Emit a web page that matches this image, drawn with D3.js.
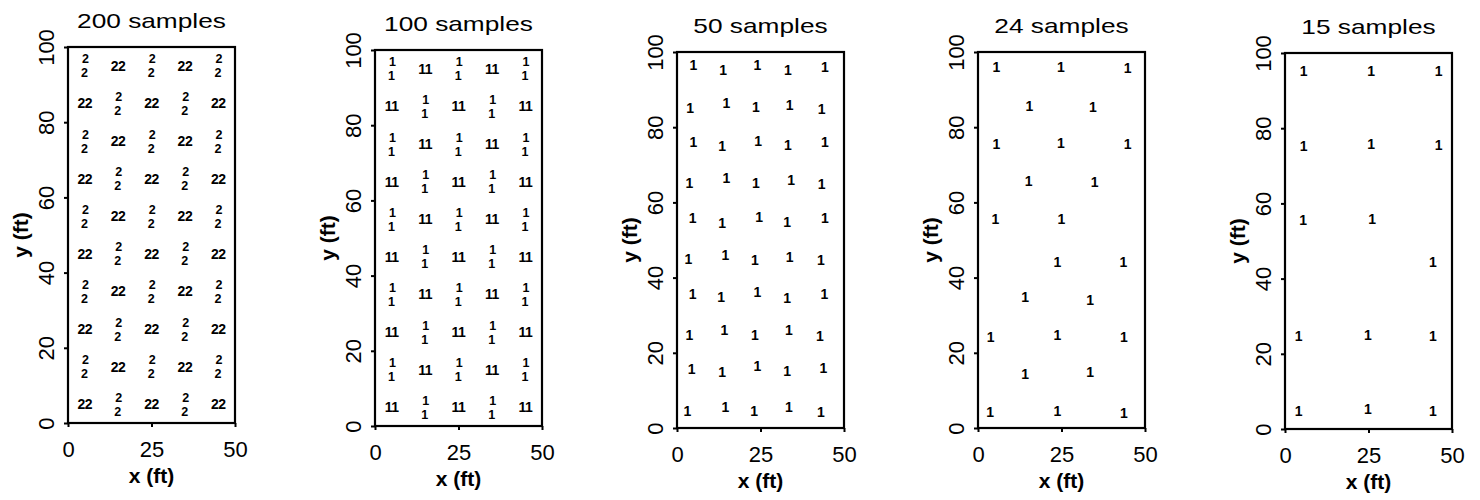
<!DOCTYPE html>
<html>
<head>
<meta charset="utf-8">
<script src="https://cdn.jsdelivr.net/npm/d3@7"></script>
<style>
  body { margin: 0; background: #fff; }
  svg { display: block; }
  text { font-family: "Liberation Sans", Arial, Helvetica, sans-serif; fill: #000; }
</style>
</head>
<body>
<script>
// ---------------- data ----------------
const titles = ["200 samples", "100 samples", "50 samples", "24 samples", "15 samples"];
const xTicks = [0, 25, 50];
const yTicks = [0, 20, 40, 60, 80, 100];
const xLabel = "x (ft)";
const yLabel = "y (ft)";

// sample locations holding a pair of markers: [x, y, layout] (h = side by side, v = stacked)
const pairs200 = [
  [5,95,"v"],[15,95,"h"],[25,95,"v"],[35,95,"h"],[45,95,"v"],
  [5,85,"h"],[15,85,"v"],[25,85,"h"],[35,85,"v"],[45,85,"h"],
  [5,75,"v"],[15,75,"h"],[25,75,"v"],[35,75,"h"],[45,75,"v"],
  [5,65,"h"],[15,65,"v"],[25,65,"h"],[35,65,"v"],[45,65,"h"],
  [5,55,"v"],[15,55,"h"],[25,55,"v"],[35,55,"h"],[45,55,"v"],
  [5,45,"h"],[15,45,"v"],[25,45,"h"],[35,45,"v"],[45,45,"h"],
  [5,35,"v"],[15,35,"h"],[25,35,"v"],[35,35,"h"],[45,35,"v"],
  [5,25,"h"],[15,25,"v"],[25,25,"h"],[35,25,"v"],[45,25,"h"],
  [5,15,"v"],[15,15,"h"],[25,15,"v"],[35,15,"h"],[45,15,"v"],
  [5,5,"h"],[15,5,"v"],[25,5,"h"],[35,5,"v"],[45,5,"h"]
];
const pairs100 = [
  [5,95,"v"],[15,95,"h"],[25,95,"v"],[35,95,"h"],[45,95,"v"],
  [5,85,"h"],[15,85,"v"],[25,85,"h"],[35,85,"v"],[45,85,"h"],
  [5,75,"v"],[15,75,"h"],[25,75,"v"],[35,75,"h"],[45,75,"v"],
  [5,65,"h"],[15,65,"v"],[25,65,"h"],[35,65,"v"],[45,65,"h"],
  [5,55,"v"],[15,55,"h"],[25,55,"v"],[35,55,"h"],[45,55,"v"],
  [5,45,"h"],[15,45,"v"],[25,45,"h"],[35,45,"v"],[45,45,"h"],
  [5,35,"v"],[15,35,"h"],[25,35,"v"],[35,35,"h"],[45,35,"v"],
  [5,25,"h"],[15,25,"v"],[25,25,"h"],[35,25,"v"],[45,25,"h"],
  [5,15,"v"],[15,15,"h"],[25,15,"v"],[35,15,"h"],[45,15,"v"],
  [5,5,"h"],[15,5,"v"],[25,5,"h"],[35,5,"v"],[45,5,"h"]
];
// single-sample locations [x, y]
const points50 = [
  [4.9,96.5],[13.8,95.2],[24.1,96.5],[33.2,95.2],[44.3,96.1],
  [3.9,85.0],[14.8,86.4],[23.6,85.3],[33.7,85.9],[43.3,84.8],
  [4.9,76.1],[13.5,75.0],[24.3,76.4],[33.2,75.3],[44.3,76.1],
  [3.7,65.1],[14.8,66.4],[23.6,65.1],[34.2,66.1],[43.3,64.9],
  [4.7,55.8],[13.5,54.6],[24.6,56.2],[33.0,54.9],[44.3,55.8],
  [3.4,44.9],[14.5,46.0],[23.3,44.7],[33.7,45.6],[43.1,44.7],
  [4.7,35.6],[13.2,34.9],[24.1,36.3],[33.0,34.5],[44.1,35.6],
  [3.7,24.7],[14.2,26.1],[23.3,24.7],[33.5,26.1],[42.8,24.5],
  [4.4,15.6],[13.5,15.0],[24.1,16.5],[33.0,15.2],[43.8,15.9],
  [3.1,4.6],[14.5,5.7],[23.1,4.6],[33.5,5.7],[43.1,4.3]
];
const points24 = [
  [5.5,96.0],[24.8,96.0],[44.8,95.7],
  [15.4,85.6],[34.4,85.3],
  [5.5,75.5],[24.8,75.7],[44.8,75.5],
  [15.2,65.8],[34.9,65.5],
  [5.2,55.5],[25.0,55.5],
  [23.8,44.2],[43.5,44.2],
  [14.1,34.9],[33.6,34.0],
  [3.8,24.3],[23.8,24.7],[43.7,24.1],
  [14.1,14.5],[33.6,14.8],
  [3.6,4.3],[23.8,4.6],[43.7,4.0]
];
const points15 = [
  [5.6,95.1],[25.8,95.1],[46.0,95.1],
  [5.6,75.3],[25.8,75.7],[46.0,75.6],
  [5.4,55.5],[26.1,55.9],
  [44.3,44.5],
  [4.1,24.7],[24.8,25.1],[44.3,24.7],
  [4.1,4.9],[24.8,5.3],[44.3,4.9]
];
const markerGlyph = ["2", "1", "1", "1", "1"];

// ---------------- layout ----------------
const panels = [
  { title: titles[0], pairs: pairs200, glyph: markerGlyph[0] },
  { title: titles[1], pairs: pairs100, glyph: markerGlyph[1] },
  { title: titles[2], points: points50, glyph: markerGlyph[2] },
  { title: titles[3], points: points24, glyph: markerGlyph[3] },
  { title: titles[4], points: points15, glyph: markerGlyph[4] }
];
const lefts = [68, 375, 677, 978, 1285];
const tops = [47, 50, 52, 52, 53];
const W = 167, H = 376;

const svg = d3.select("body").append("svg")
  .attr("width", 1480).attr("height", 500);

panels.forEach((p, i) => {
  const g = svg.append("g").attr("transform", `translate(${lefts[i]},${tops[i]})`);
  const x = d3.scaleLinear().domain([0, 50]).range([0, W]);
  const y = d3.scaleLinear().domain([0, 100]).range([H, 0]);

  // x axis
  const gx = g.append("g").attr("transform", `translate(0,${H})`)
    .call(d3.axisBottom(x).tickValues(xTicks).tickSize(4).tickPadding(14).tickFormat(d3.format("d")));
  gx.select(".domain").remove();
  gx.selectAll(".tick line").attr("stroke", "#000").attr("stroke-width", 2);
  gx.selectAll(".tick text").attr("font-size", 22).attr("font-family", "Liberation Sans, Arial, sans-serif").attr("fill", "#000");

  // y axis
  const gy = g.append("g")
    .call(d3.axisLeft(y).tickValues(yTicks).tickSize(4).tickFormat(d3.format("d")));
  gy.select(".domain").remove();
  gy.selectAll(".tick line").attr("stroke", "#000").attr("stroke-width", 2);
  gy.selectAll(".tick text")
    .attr("font-size", 22).attr("font-family", "Liberation Sans, Arial, sans-serif").attr("fill", "#000")
    .attr("text-anchor", "middle").attr("x", 0).attr("y", -14).attr("dy", 0)
    .attr("transform", "rotate(-90)");

  // frame
  g.append("rect").attr("x", 0).attr("y", 0).attr("width", W).attr("height", H)
    .attr("fill", "none").attr("stroke", "#000").attr("stroke-width", 2.2);

  // title
  const t = g.append("text").attr("x", W / 2).attr("y", -19)
    .attr("text-anchor", "middle").attr("font-size", 21).text(p.title);
  const len = t.node().getComputedTextLength();
  t.attr("textLength", len * 1.25).attr("lengthAdjust", "spacingAndGlyphs");

  // axis titles
  g.append("text").attr("x", W / 2).attr("y", H + 60)
    .attr("text-anchor", "middle").attr("font-size", 21).attr("font-weight", "bold").text(xLabel);
  g.append("text").attr("transform", `translate(-40,${H / 2}) rotate(-90)`)
    .attr("text-anchor", "middle").attr("font-size", 21).attr("font-weight", "bold").text(yLabel);

  // markers
  const mg = g.append("g").attr("font-weight", "bold").attr("text-anchor", "middle");
  if (p.pairs) {
    const fsPair = 12.5;
    const sel = mg.selectAll("g.pair").data(p.pairs).join("g")
      .attr("class", "pair")
      .attr("font-size", fsPair)
      .attr("transform", d => `translate(${x(d[0])},${y(d[1])})`);
    // side by side: one run of two glyphs
    sel.filter(d => d[2] === "h").append("text")
      .attr("font-size", 14)
      .attr("letter-spacing", -0.5)
      .attr("dy", "0.36em")
      .text(p.glyph + p.glyph);
    // stacked: two glyphs, one above the other
    const v = sel.filter(d => d[2] === "v");
    v.append("text").attr("x", 0.7).attr("y", -7).attr("dy", "0.36em").text(p.glyph);
    v.append("text").attr("x", -0.3).attr("y", 7).attr("dy", "0.36em").text(p.glyph);
  } else {
    mg.attr("font-size", 14);
    mg.selectAll("text").data(p.points).join("text")
      .attr("x", d => x(d[0])).attr("y", d => y(d[1])).attr("dy", "0.36em")
      .text(p.glyph);
  }
});
</script>
</body>
</html>
